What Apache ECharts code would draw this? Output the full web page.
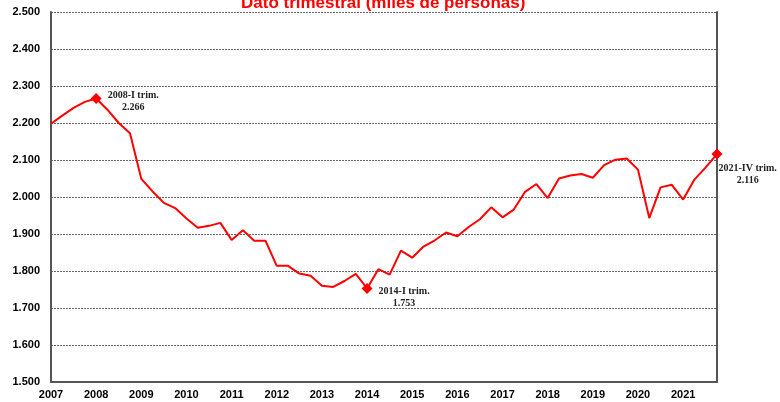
<!DOCTYPE html>
<html>
<head>
<meta charset="utf-8">
<script src="https://cdn.jsdelivr.net/npm/echarts@6/dist/echarts.min.js"></script>
<style>
  html, body { margin: 0; padding: 0; background: #fff; }
  #chart { width: 780px; height: 402px; }
</style>
</head>
<body>
<div id="chart"></div>
<script>
// años mostrados en el eje (uno por cada primer trimestre)
const years = ['2007','2008','2009','2010','2011','2012','2013','2014','2015','2016','2017','2018','2019','2020','2021'];
const quarters = ['I', 'II', 'III', 'IV'];

// dato trimestral (miles de personas), 2007-I a 2021-IV
const values = [
  2198, 2220, 2241, 2257,
  2266, 2236, 2200, 2172,
  2049, 2015, 1984, 1970,
  1942, 1917, 1922, 1930,
  1884, 1910, 1882, 1882,
  1814, 1814, 1793, 1787,
  1760, 1757, 1773, 1792,
  1753, 1805, 1790, 1855,
  1836, 1866, 1883, 1904,
  1894, 1919, 1940, 1972,
  1945, 1966, 2014, 2035,
  1997, 2050, 2058, 2062,
  2052, 2086, 2101, 2104,
  2074, 1943, 2026, 2033,
  1993, 2047, 2080, 2116
];

// puntos destacados
const markIdx = [4, 28, 59];
const markText = ['2008-I trim.', '2014-I trim.', '2021-IV trim.'];
const markPos = ['right', 'insideTopLeft', 'insideTopLeft'];
const markOffset = [[1, 3], [12, -2], [2, 9]];

const categories = [];
years.forEach(y => quarters.forEach(q => categories.push(y + '-' + q)));

function fmt(v) {
  const s = String(Math.round(v));
  return s.length > 3 ? s.slice(0, s.length - 3) + '.' + s.slice(-3) : s;
}

const seriesData = values.map((v, i) => {
  const k = markIdx.indexOf(i);
  if (k < 0) return v;
  return {
    value: v,
    symbol: 'diamond',
    symbolSize: 11,
    label: {
      show: true,
      position: markPos[k],
      offset: markOffset[k],
      formatter: '{a|' + markText[k] + '}\n{a|' + fmt(v) + '}',
      rich: {
        a: {
          fontFamily: 'Liberation Serif',
          fontWeight: 'bold',
          fontSize: 10,
          color: '#222',
          align: 'center',
          lineHeight: 12
        }
      }
    }
  };
});

const chart = echarts.init(document.getElementById('chart'));
chart.setOption({
  backgroundColor: '#fff',
  animation: false,
  title: {
    text: 'Dato trimestral (miles de personas)',
    left: 236,
    top: -10,
    textStyle: { color: '#ff0000', fontSize: 17, fontWeight: 'bold', fontFamily: 'Liberation Sans' }
  },
  grid: { left: 51, right: 63, top: 12, bottom: 20 },
  xAxis: {
    type: 'category',
    data: categories,
    boundaryGap: false,
    axisLine: { lineStyle: { color: '#555', width: 2 } },
    axisTick: { show: false },
    axisLabel: {
      interval: 0,
      margin: 7,
      color: '#000',
      fontWeight: 'bold',
      fontSize: 11,
      fontFamily: 'Liberation Sans',
      formatter: (v, i) => (i % 4 === 0 ? v.split('-')[0] : '')
    },
    splitLine: { show: false }
  },
  yAxis: [{
    type: 'value',
    min: 1500,
    max: 2500,
    interval: 100,
    axisLine: { show: true, lineStyle: { color: '#555', width: 2 } },
    axisTick: { show: false },
    axisLabel: {
      color: '#000',
      fontWeight: 'bold',
      fontSize: 11,
      fontFamily: 'Liberation Sans',
      margin: 11,
      formatter: fmt
    },
    splitLine: { show: true, lineStyle: { color: '#666', type: [2, 1], width: 1 } }
  }, {
    type: 'value',
    position: 'right',
    min: 1500,
    max: 2500,
    axisLine: { show: true, lineStyle: { color: '#555', width: 2 } },
    axisTick: { show: false },
    axisLabel: { show: false },
    splitLine: { show: false }
  }],
  series: [{
    type: 'line',
    data: seriesData,
    symbol: 'none',
    showSymbol: true,
    showAllSymbol: true,
    color: '#ff0000',
    lineStyle: { color: '#ff0000', width: 2 },
    itemStyle: { color: '#ff0000' }
  }]
});
</script>
</body>
</html>
